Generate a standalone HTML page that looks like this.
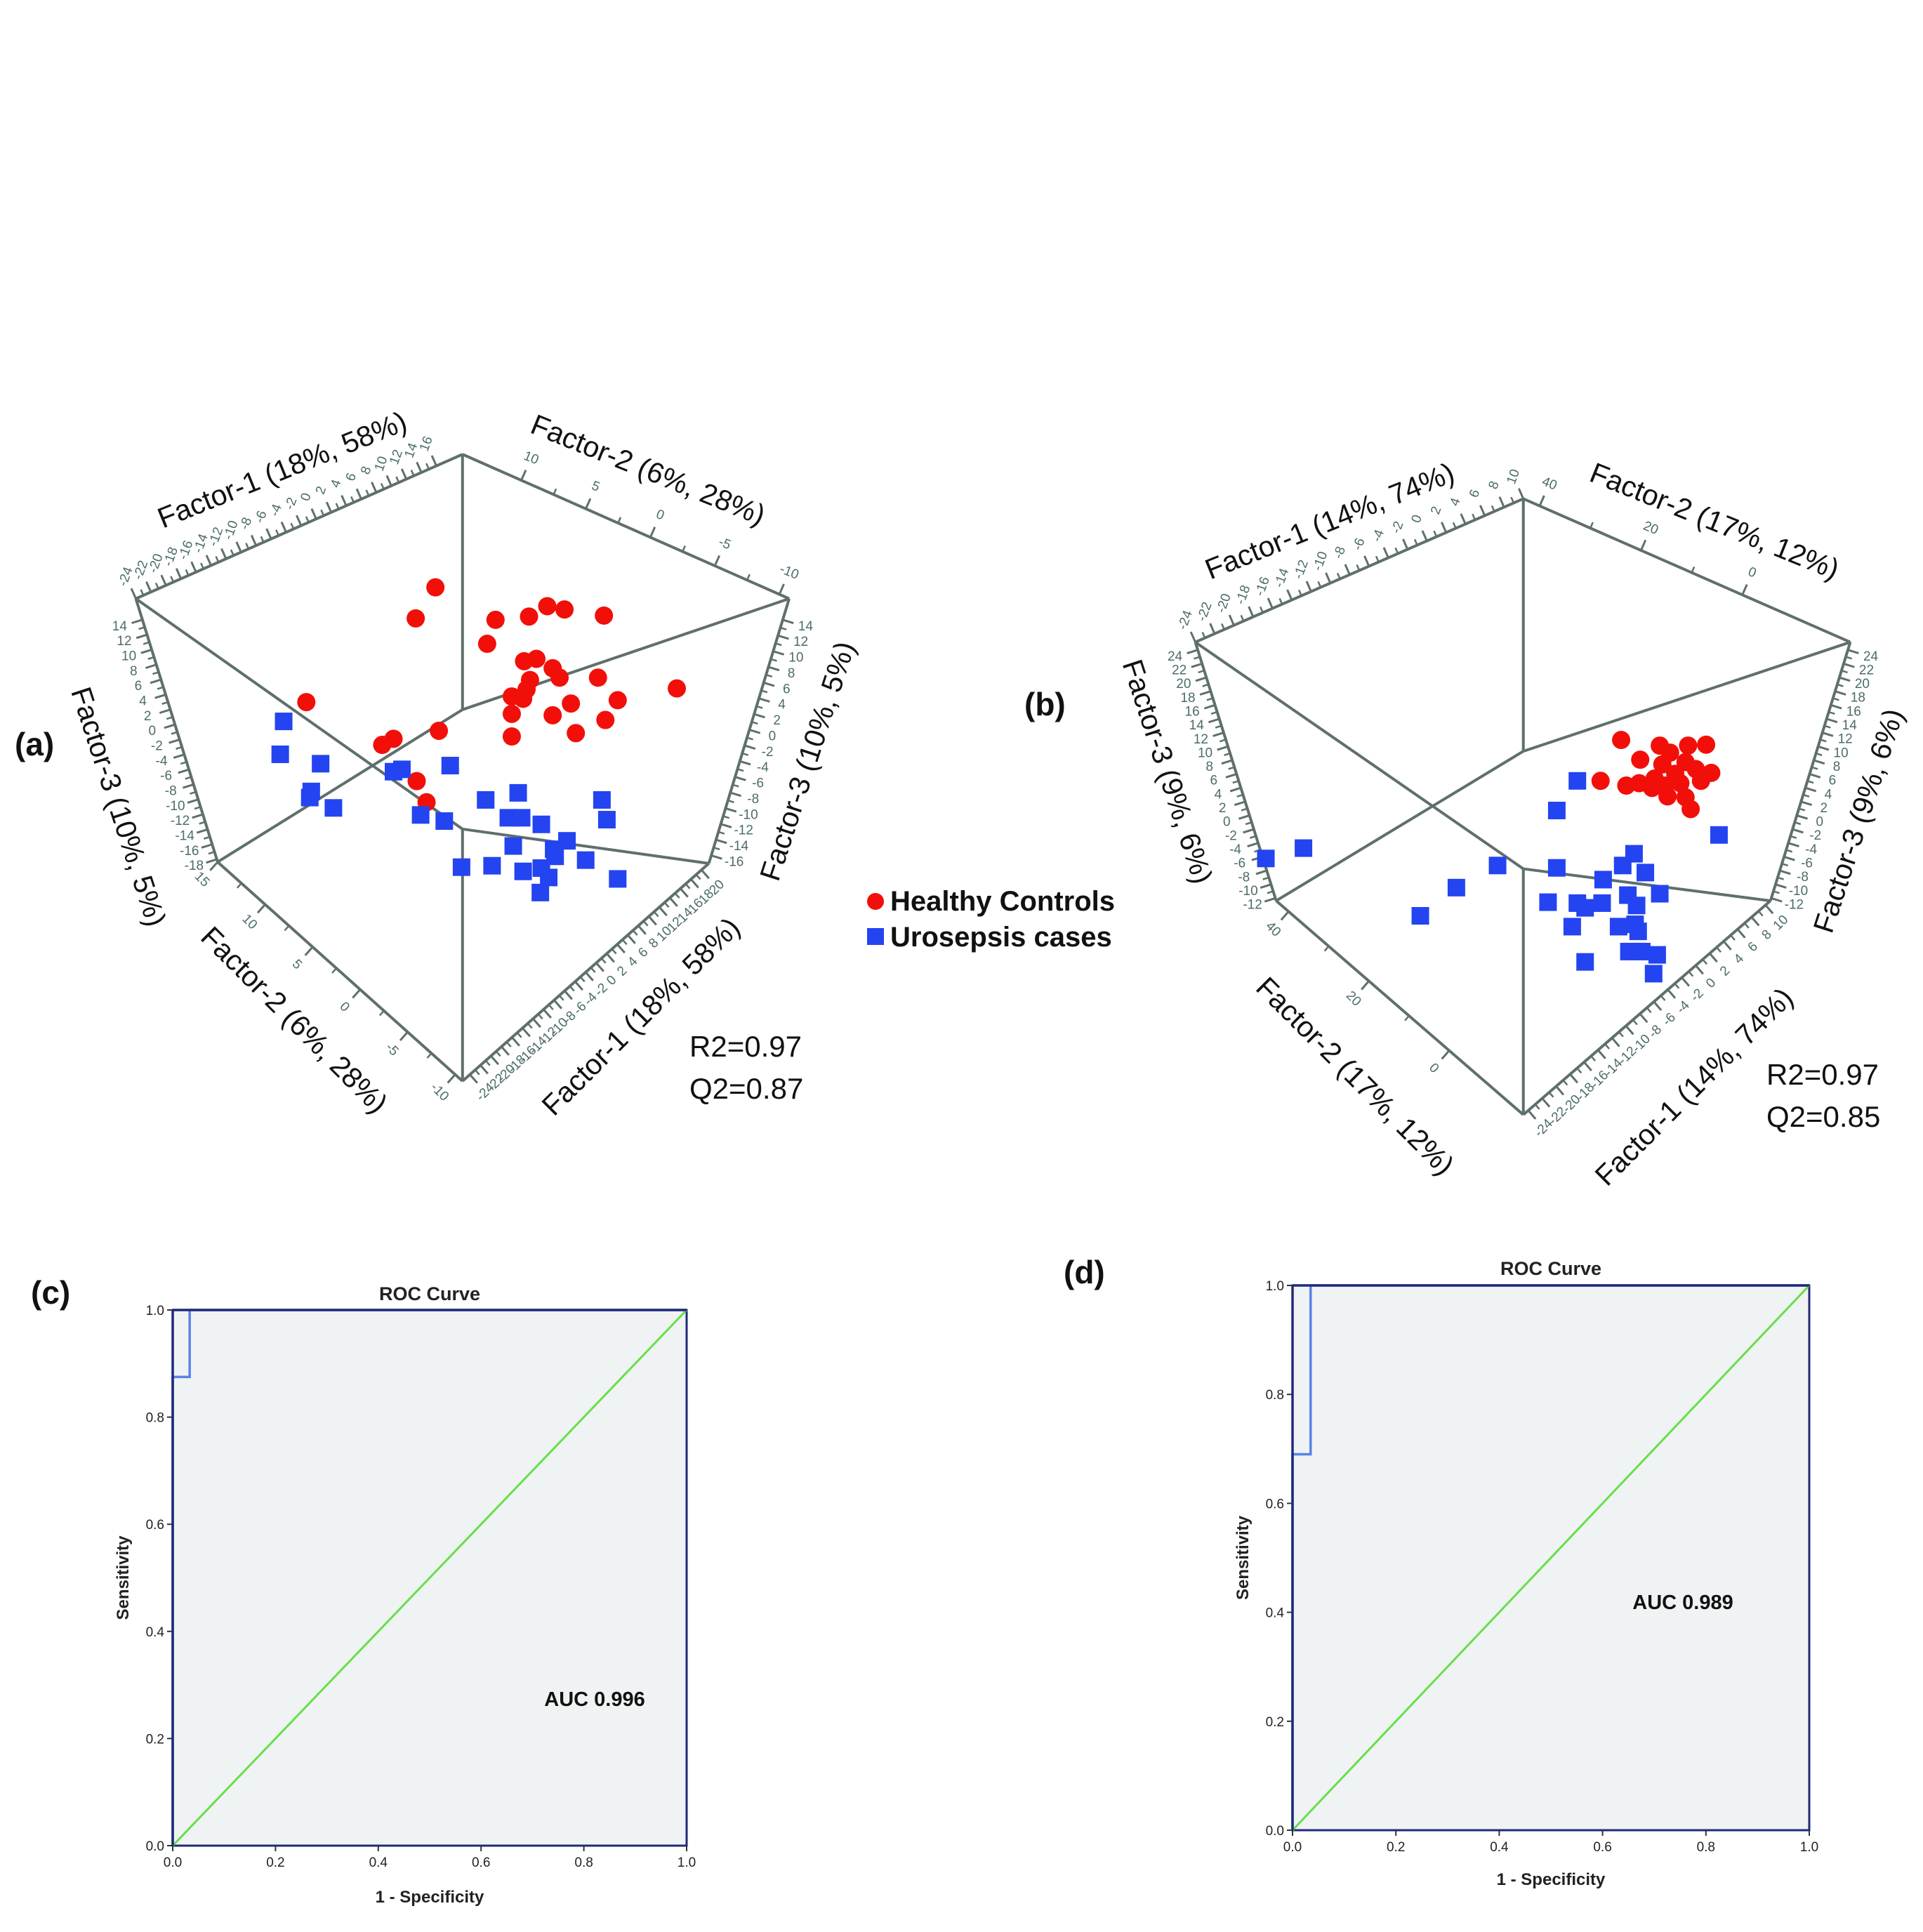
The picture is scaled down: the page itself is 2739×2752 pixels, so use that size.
<!DOCTYPE html>
<html><head><meta charset="utf-8"><style>
html,body{margin:0;padding:0;background:#fff}
svg{display:block;font-family:"Liberation Sans",sans-serif}
</style></head><body>
<svg id="s" width="2739" height="2752" xmlns="http://www.w3.org/2000/svg"></svg>
<script>
// ===== Data: panel (a) projected scores (zoom-units) =====
const aRedX=[670,630,792,860,897,932,1012,775,850,875,908,922,1000,862,855,825,848,945,1040,825,908,1015,955,825,1160,408,677,585,562,632,652];
const aRedY=[428,494,497,490,468,475,488,548,585,580,600,620,620,625,645,660,665,675,668,697,700,710,738,745,643,672,733,750,763,840,885];
const aBlueX=[362,355,437,585,602,700,418,415,463,640,688,772,838,1008,1018,818,845,885,828,937,910,913,975,723,785,848,885,900,883,1040];
const aBlueY=[713,783,803,820,815,807,862,875,897,912,925,880,865,880,922,918,918,932,978,967,985,1000,1008,1023,1020,1032,1025,1045,1077,1048];
// ===== Data: panel (b) =====
const bRedX=[1035,1110,1165,1200,1130,1072,1115,1160,1210,995,1045,1070,1100,1140,1180,1120,1095,1160,1125,1170,1190,1150];
const bRedY=[648,660,660,658,675,690,700,695,718,735,745,740,730,720,710,745,750,770,768,795,735,740];
const bBlueX=[950,910,1225,345,418,795,715,645,910,1060,1038,1082,1000,1110,1048,1065,893,950,965,998,940,1030,1062,1068,1050,1075,1105,965,1098];
const bBlueY=[735,798,850,900,878,915,962,1022,920,890,915,930,945,975,978,1000,993,995,1005,995,1045,1045,1040,1055,1098,1098,1105,1120,1145];
// ROC data
const rocCX=[0,0,0.033,0.033,1];
const rocCY=[0,0.875,0.875,1,1];
const rocDX=[0,0,0.035,0.035,1];
const rocDY=[0,0.69,0.69,1,1];
const rocTicks=[0,0.2,0.4,0.6,0.8,1.0];

const S=document.getElementById('s');const NS='http://www.w3.org/2000/svg';
function el(t,a,p){const e=document.createElementNS(NS,t);for(const k in a)e.setAttribute(k,a[k]);(p||S).appendChild(e);return e;}
function txt(x,y,s,a,p){const e=el('text',Object.assign({x:x,y:y},a),p);e.textContent=s;return e;}

function panel3d(ox,oy,sc,sy,V,name,redX,redY,blueX,blueY,edges,titles){
  const g=el('g',{});
  
  
  const P=k=>[ox+V[k][0]/sc,oy+V[k][1]/sy];
  const line=(a,b)=>{const p=P(a),q=P(b);const l=el('line',{x1:p[0],y1:p[1],x2:q[0],y2:q[1],stroke:'#5f6f6d','stroke-width':4},g);
    
    };
  [['T','UR'],['UR','LR'],['LR','B'],['B','LL'],['LL','UL'],['UL','T'],['T','C'],['C','LL'],['C','UR'],['UL','Pp'],['Pp','LR'],['Pp','B']].forEach(e=>line(e[0],e[1]));
  const cx=ox+V.T[0]/sc,cy=oy+V.C[1]/sy;
  edges.forEach(ed=>{
    const p=P(ed.a),q=P(ed.b);const dx=q[0]-p[0],dy=q[1]-p[1];const L=Math.hypot(dx,dy);
    let nx=-dy/L,ny=dx/L;const mx=(p[0]+q[0])/2,my=(p[1]+q[1])/2;
    if((mx-cx)*nx+(my-cy)*ny<0){nx=-nx;ny=-ny;}
    const n=ed.labels.length;
    const minor=ed.minor||1;
    for(let i=0;i<n;i++){
      const t=ed.t0+(ed.t1-ed.t0)*(n>1?i/(n-1):0);
      const x=p[0]+dx*t,y=p[1]+dy*t;
      el('line',{x1:x,y1:y,x2:x+nx*16,y2:y+ny*16,stroke:'#5f6f6d','stroke-width':3},g);
      if(minor>1&&i<n-1){for(let m=1;m<minor;m++){const tt=t+(ed.t1-ed.t0)/(n-1)*m/minor;const xx=p[0]+dx*tt,yy=p[1]+dy*tt;
        el('line',{x1:xx,y1:yy,x2:xx+nx*9,y2:yy+ny*9,stroke:'#5f6f6d','stroke-width':2.5},g);}}
      const lx=x+nx*34,ly=y+ny*34;
      const ang=ed.rot;
      const tx=txt(lx,ly,ed.labels[i],{'font-size':19,fill:'#4d6b6b','text-anchor':'middle','dominant-baseline':'middle',transform:`rotate(${ang} ${lx} ${ly})`},g);
      
      
    }
  });
  titles.forEach(tl=>{const t=txt(tl[0],tl[1],tl[2],{'font-size':41,fill:'#111','text-anchor':'middle','dominant-baseline':'middle',transform:`rotate(${tl[3]} ${tl[0]} ${tl[1]})`},g);
    
    });
  for(let i=0;i<redX.length;i++){const c=el('circle',{cx:ox+redX[i]/sc,cy:oy+redY[i]/sy,r:13,fill:'#f20f0a'},g);
    
    }
  for(let i=0;i<blueX.length;i++){const r=el('rect',{x:ox+blueX[i]/sc-12.5,y:oy+blueY[i]/sy-12.5,width:25,height:25,fill:'#2344f0'},g);
    
    }
}
const rng=(a,b,s)=>{const r=[];for(let v=a;s>0?v<=b:v>=b;v+=s)r.push(String(v));return r;};

panel3d(150,550,1.425,1.493,{T:[725,145],UL:[62,452],UR:[1388,452],LR:[1225,1015],B:[725,1478],LL:[228,1012],C:[725,688],Pp:[725,942]},'pca-panel-a',
 aRedX,aRedY,aBlueX,aBlueY,
 [{a:'UL',b:'T',labels:rng(-24,16,2),t0:0,t1:0.92,rot:-70,minor:2},
  {a:'T',b:'UR',labels:['10','5','0','-5','-10'],t0:0.18,t1:0.97,rot:22,minor:2},
  {a:'UR',b:'LR',labels:rng(14,-16,-2),t0:0.08,t1:0.97,rot:0,minor:2},
  {a:'UL',b:'LL',labels:rng(14,-18,-2),t0:0.08,t1:0.99,rot:0,minor:2},
  {a:'LL',b:'B',labels:['15','10','5','0','-5','-10'],t0:0,t1:0.97,rot:45,minor:2},
  {a:'B',b:'LR',labels:rng(-24,20,2),t0:0.03,t1:0.97,rot:-45,minor:2}],
 [[403,672,'Factor-1 (18%, 58%)',-22],[922,672,'Factor-2 (6%, 28%)',22],[1153,1085,'Factor-3 (10%, 5%)',-72],
  [166,1150,'Factor-3 (10%, 5%)',72],[417,1455,'Factor-2 (6%, 28%)',45],[915,1450,'Factor-1 (18%, 58%)',-45]]);

panel3d(1550,620,1.3635,1.493,{T:[845,135],UL:[208,440],UR:[1480,440],LR:[1325,990],B:[845,1445],LL:[365,990],C:[845,672],Pp:[845,922]},'pca-panel-b',
 bRedX,bRedY,bBlueX,bBlueY,
 [{a:'UL',b:'T',labels:rng(-24,10,2),t0:0,t1:1,rot:-70,minor:2},
  {a:'T',b:'UR',labels:['40','20','0'],t0:0.05,t1:0.67,rot:22,minor:2},
  {a:'UR',b:'LR',labels:rng(24,-12,-2),t0:0.03,t1:0.99,rot:0,minor:2},
  {a:'UL',b:'LL',labels:rng(24,-12,-2),t0:0.03,t1:0.99,rot:0,minor:2},
  {a:'LL',b:'B',labels:['40','20','0'],t0:0.05,t1:0.7,rot:45,minor:2},
  {a:'B',b:'LR',labels:rng(-24,10,2),t0:0.02,t1:0.98,rot:-45,minor:2}],
 [[1895,745,'Factor-1 (14%, 74%)',-22],[2441,745,'Factor-2 (17%, 12%)',22],[2650,1170,'Factor-3 (9%, 6%)',-72],
  [1660,1100,'Factor-3 (9%, 6%)',72],[1928,1535,'Factor-2 (17%, 12%)',45],[2415,1550,'Factor-1 (14%, 74%)',-45]]);

function roc(x0,y0,x1,y1,name,xs,ys,auc,aucX,aucY,titleY,ylabX,xlabY){
  const g=el('g',{});
  
  
  const X=v=>x0+(x1-x0)*v,Y=v=>y1-(y1-y0)*v;
  el('rect',{x:x0,y:y0,width:x1-x0,height:y1-y0,fill:'#f0f3f3',stroke:'#1f2a78','stroke-width':3},g);
  el('line',{x1:X(0),y1:Y(0),x2:X(1),y2:Y(1),stroke:'#66e04a','stroke-width':3},g);
  let d='';for(let i=0;i<xs.length;i++)d+=(i?'L':'M')+X(xs[i])+' '+Y(ys[i]);
  const p=el('path',{d:d,fill:'none',stroke:'#5a83e8','stroke-width':3.5},g);
  
  
  el('line',{x1:X(0),y1:Y(1),x2:X(1),y2:Y(1),stroke:'#1f2a78','stroke-width':3.5},g);
  el('line',{x1:X(0),y1:Y(0),x2:X(0),y2:Y(1),stroke:'#1f2a78','stroke-width':3.5},g);
  rocTicks.forEach(v=>{
    el('line',{x1:X(v),y1:y1,x2:X(v),y2:y1+8,stroke:'#333','stroke-width':2},g);
    txt(X(v),y1+30,v.toFixed(1),{'font-size':19,'text-anchor':'middle',fill:'#222'},g);
    el('line',{x1:x0-8,y1:Y(v),x2:x0,y2:Y(v),stroke:'#333','stroke-width':2},g);
    txt(x0-12,Y(v)+7,v.toFixed(1),{'font-size':19,'text-anchor':'end',fill:'#222'},g);
  });
  txt((x0+x1)/2,titleY,'ROC Curve',{'font-size':27,'font-weight':'bold','text-anchor':'middle',fill:'#222'},g);
  txt(ylabX,(y0+y1)/2,'Sensitivity',{'font-size':24,'font-weight':'bold','text-anchor':'middle',fill:'#222',transform:`rotate(-90 ${ylabX} ${(y0+y1)/2})`},g);
  txt((x0+x1)/2,xlabY,'1 - Specificity',{'font-size':24,'font-weight':'bold','text-anchor':'middle',fill:'#222'},g);
  txt(aucX,aucY,auc,{'font-size':29,'font-weight':'bold','text-anchor':'middle',fill:'#111'},g);
}
roc(246,1866,978,2629,'roc-chart-c',rocCX,rocCY,'AUC 0.996',847,2430,1852,183,2710);
roc(1841,1831,2577,2607,'roc-chart-d',rocDX,rocDY,'AUC 0.989',2397,2292,1816,1778,2685);

// Panel letters, stats, legend
[[21,1064,'(a)'],[1459,1007,'(b)'],[44,1845,'(c)'],[1515,1816,'(d)']].forEach(l=>{const t=txt(l[0],l[1],l[2],{'font-size':46,'font-weight':'bold',fill:'#111','dominant-baseline':'middle'});
  
  });
[[982,1505,'R2=0.97'],[982,1565,'Q2=0.87'],[2516,1545,'R2=0.97'],[2516,1605,'Q2=0.85']].forEach(l=>{const t=txt(l[0],l[1],l[2],{'font-size':42,fill:'#111'});
  
  });
const lg=el('g',{});


el('circle',{cx:1247,cy:1284,r:12,fill:'#f20f0a'},lg);
const t1=txt(1268,1297,'Healthy Controls',{'font-size':40,'font-weight':'bold',fill:'#111'},lg);


el('rect',{x:1235,y:1322,width:24,height:24,fill:'#2344f0'},lg);
const t2=txt(1268,1348,'Urosepsis cases',{'font-size':40,'font-weight':'bold',fill:'#111'},lg);


</script>
</body></html>
